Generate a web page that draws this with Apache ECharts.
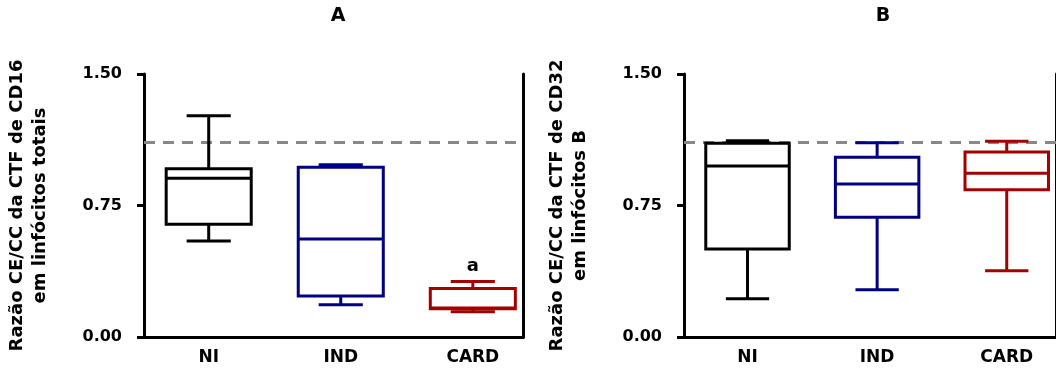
<!DOCTYPE html>
<html>
<head>
<meta charset="utf-8">
<script src="https://cdn.jsdelivr.net/npm/echarts@6/dist/echarts.min.js"></script>
<style>
  html, body { margin: 0; padding: 0; background: #ffffff; }
  #chart { width: 1056px; height: 370px; }
</style>
</head>
<body>
<div id="chart"></div>
<script>
// Groups and their colours
const categories = ['NI', 'IND', 'CARD'];
const groupColors = ['#000000', '#000080', '#a30000'];

// Five-number summaries, each as [min, Q1, median, Q3, max]
const cd16NI   = [0.548, 0.643, 0.905, 0.960, 1.262];
const cd16IND  = [0.184, 0.234, 0.559, 0.968, 0.983];
const cd16CARD = [0.144, 0.161, 0.165, 0.276, 0.316];

const cd32NI   = [0.218, 0.502, 0.975, 1.105, 1.120];
const cd32IND  = [0.270, 0.683, 0.873, 1.025, 1.108];
const cd32CARD = [0.378, 0.840, 0.934, 1.055, 1.116];

// Significance letters written above each box
const cd16Marks = ['', '', 'a'];
const cd32Marks = ['', '', ''];

// Dashed reference level and y ticks
const referenceLevel = 1.115;
const yTicks = [0, 0.75, 1.5];

const FONT = '"DejaVu Sans", "Liberation Sans", Arial, sans-serif';

const panels = [
  {
    title: 'A',
    titleX: 333,
    yName: 'Razão CE/CC da CTF de CD16\nem linfócitos totais',
    boxes: [cd16NI, cd16IND, cd16CARD],
    marks: cd16Marks,
    left: 144
  },
  {
    title: 'B',
    titleX: 878,
    yName: 'Razão CE/CC da CTF de CD32\nem linfócitos B',
    boxes: [cd32NI, cd32IND, cd32CARD],
    marks: cd32Marks,
    left: 684
  }
];

const X_MIN = 0.51, X_MAX = 3.38;

function strokeStyle(color) {
  return { stroke: color, lineWidth: 3, fill: null, lineCap: 'butt' };
}

// Draws one box-and-whisker glyph per data item: [x, min, Q1, median, Q3, max]
function makeBoxRenderer(marks) {
  return function (params, api) {
    const x = api.value(0);
    const color = groupColors[params.dataIndex];
    const lo = api.coord([x, api.value(1)]);
    const q1 = api.coord([x, api.value(2)]);
    const md = api.coord([x, api.value(3)]);
    const q3 = api.coord([x, api.value(4)]);
    const hi = api.coord([x, api.value(5)]);
    const unit = api.size([1, 0])[0];
    const half = unit * 0.322;
    const cap = unit * 0.167;
    const cx = lo[0];
    const children = [
      { type: 'line', shape: { x1: cx, y1: q3[1], x2: cx, y2: hi[1] }, style: strokeStyle(color) },
      { type: 'line', shape: { x1: cx, y1: q1[1], x2: cx, y2: lo[1] }, style: strokeStyle(color) },
      { type: 'line', shape: { x1: cx - cap, y1: hi[1], x2: cx + cap, y2: hi[1] }, style: strokeStyle(color) },
      { type: 'line', shape: { x1: cx - cap, y1: lo[1], x2: cx + cap, y2: lo[1] }, style: strokeStyle(color) },
      {
        type: 'rect',
        shape: { x: cx - half, y: q3[1], width: 2 * half, height: q1[1] - q3[1] },
        style: { stroke: color, lineWidth: 3, fill: '#ffffff', lineJoin: 'miter' }
      },
      { type: 'line', shape: { x1: cx - half, y1: md[1], x2: cx + half, y2: md[1] }, style: strokeStyle(color) }
    ];
    const mark = marks[params.dataIndex];
    if (mark) {
      children.push({
        type: 'text',
        x: cx,
        y: hi[1] - 6,
        style: {
          text: mark,
          align: 'center',
          verticalAlign: 'bottom',
          font: 'bold 18px ' + FONT,
          fill: '#000000'
        }
      });
    }
    return { type: 'group', children: children };
  };
}

const option = {
  animation: false,
  backgroundColor: '#ffffff',
  title: panels.map(p => ({
    text: p.title,
    left: p.titleX,
    top: 2,
    textAlign: 'center',
    textStyle: { fontFamily: FONT, fontWeight: 'bold', fontSize: 19, color: '#000' }
  })),
  grid: panels.map(p => ({ left: p.left, top: 74, width: 379, height: 263 })),
  xAxis: [],
  yAxis: [],
  series: []
};

panels.forEach((p, i) => {
  // bottom axis with group names
  option.xAxis.push({
    type: 'value',
    gridIndex: i,
    min: X_MIN,
    max: X_MAX,
    position: 'bottom',
    axisLine: { show: true, lineStyle: { color: '#000', width: 3 } },
    axisTick: { show: false },
    splitLine: { show: false },
    axisLabel: {
      customValues: [1, 2, 3],
      formatter: v => categories[Math.round(v) - 1] || '',
      margin: 12,
      color: '#000',
      fontFamily: FONT,
      fontWeight: 'bold',
      fontSize: 17
    }
  });
  // top frame edge
  option.xAxis.push({
    type: 'value',
    gridIndex: i,
    min: X_MIN,
    max: X_MAX,
    position: 'top',
    axisLine: { show: true, lineStyle: { color: '#000', width: 3 } },
    axisTick: { show: false },
    axisLabel: { show: false },
    splitLine: { show: false }
  });
  // left value axis
  option.yAxis.push({
    type: 'value',
    gridIndex: i,
    min: yTicks[0],
    max: yTicks[yTicks.length - 1],
    interval: yTicks[1] - yTicks[0],
    position: 'left',
    name: p.yName,
    nameLocation: 'middle',
    nameRotate: 90,
    nameGap: 92,
    nameTextStyle: {
      fontFamily: FONT,
      fontWeight: 'bold',
      fontSize: 18,
      lineHeight: 23,
      color: '#000',
      align: 'center'
    },
    axisLine: { show: true, lineStyle: { color: '#000', width: 3 } },
    axisTick: { show: true, inside: false, length: 7, lineStyle: { color: '#000', width: 3 } },
    splitLine: { show: false },
    axisLabel: {
      formatter: v => v.toFixed(2),
      margin: 22,
      color: '#000',
      fontFamily: FONT,
      fontWeight: 'bold',
      fontSize: 16
    }
  });
  // right frame edge
  option.yAxis.push({
    type: 'value',
    gridIndex: i,
    min: yTicks[0],
    max: yTicks[yTicks.length - 1],
    position: 'right',
    axisLine: { show: true, lineStyle: { color: '#000', width: 3 } },
    axisTick: { show: false },
    axisLabel: { show: false },
    splitLine: { show: false }
  });

  // dashed reference level
  option.series.push({
    type: 'line',
    xAxisIndex: 2 * i,
    yAxisIndex: 2 * i,
    data: [],
    z: 1,
    markLine: {
      silent: true,
      symbol: ['none', 'none'],
      label: { show: false },
      lineStyle: { color: '#888888', width: 3, type: [11, 8] },
      data: [{ yAxis: referenceLevel }]
    }
  });

  // box plots
  option.series.push({
    type: 'custom',
    xAxisIndex: 2 * i,
    yAxisIndex: 2 * i,
    z: 5,
    clip: false,
    encode: { x: 0, y: [1, 2, 3, 4, 5] },
    renderItem: makeBoxRenderer(p.marks),
    data: p.boxes.map((b, k) => [k + 1].concat(b))
  });
});

const chart = echarts.init(document.getElementById('chart'), null, { renderer: 'canvas' });
chart.setOption(option);
</script>
</body>
</html>
